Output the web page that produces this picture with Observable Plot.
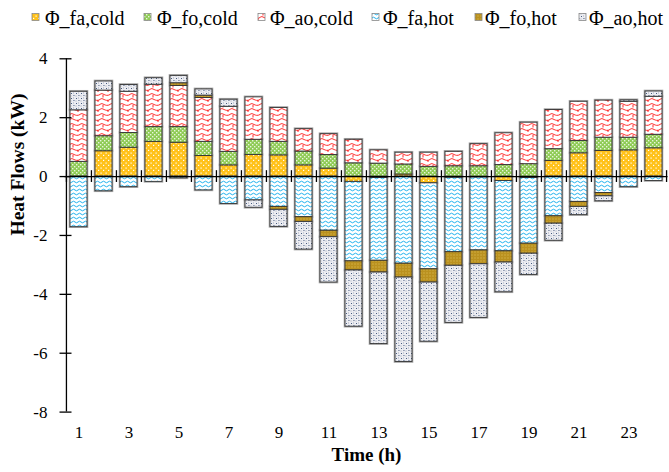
<!DOCTYPE html>
<html><head><meta charset="utf-8">
<script src="https://cdn.jsdelivr.net/npm/d3@7"></script>
<script src="https://cdn.jsdelivr.net/npm/@observablehq/plot@0.6"></script>
<style>
body{margin:0;background:#fff;}
#chart{width:669px;height:472px;position:relative;overflow:hidden;}
</style></head><body>
<svg width="0" height="0" style="position:absolute">
<defs>
<pattern id="pFaCold" width="5" height="5" patternUnits="userSpaceOnUse">
  <rect width="5" height="5" fill="#FFC21A"/>
  <rect x="0.5" y="0.5" width="1.2" height="1.2" fill="#fff"/>
  <rect x="3" y="2.8" width="1.2" height="1.2" fill="#fff"/>
</pattern>
<pattern id="pFoCold" width="4" height="4" patternUnits="userSpaceOnUse">
  <rect width="4" height="4" fill="#8FCB55"/>
  <rect x="0" y="0" width="1.4" height="1.4" fill="#e8f5dc"/>
  <rect x="2" y="2" width="1.4" height="1.4" fill="#e8f5dc"/>
</pattern>
<pattern id="pAoCold" width="10" height="10" patternUnits="userSpaceOnUse">
  <rect width="10" height="10" fill="#fff"/>
  <path d="M0,2.5 C2.5,-0.5 5,5.5 10,2.5 M0,7.5 C2.5,4.5 5,10.5 10,7.5 M3,3 L3,5.5 M8,8 L8,10" fill="none" stroke="#FF1010" stroke-width="0.9"/>
</pattern>
<pattern id="pFaHot" width="6" height="4" patternUnits="userSpaceOnUse">
  <rect width="6" height="4" fill="#fff"/>
  <path d="M0,2 Q1.5,0.4 3,2 T6,2" fill="none" stroke="#20B2EE" stroke-width="1"/>
</pattern>
<pattern id="pFoHot" width="3" height="3" patternUnits="userSpaceOnUse">
  <rect width="3" height="3" fill="#BA911F"/>
  <rect x="0.5" y="0.5" width="1" height="1" fill="#E3C45E"/>
</pattern>
<pattern id="pAoHot" width="5" height="5" patternUnits="userSpaceOnUse">
  <rect width="5" height="5" fill="#ECEDF2"/>
  <rect x="1" y="1" width="0.9" height="0.9" fill="#1F3864"/>
  <rect x="3.5" y="3" width="0.9" height="0.9" fill="#1F3864"/>
  <rect x="3" y="0.5" width="1" height="1" fill="#A5ABBD"/>
  <rect x="0.5" y="3.5" width="1" height="1" fill="#A5ABBD"/>
</pattern>
</defs>
</svg>
<div id="chart"></div>
<script>
const hours = d3.range(1, 25);
const seriesNames = ["Φ_fa,cold", "Φ_fo,cold", "Φ_ao,cold", "Φ_fa,hot", "Φ_fo,hot", "Φ_ao,hot"];
const faCold = [0, 0.86, 0.98, 1.18, 1.15, 0.70, 0.38, 0.73, 0.72, 0.38, 0.27, -0.18, -0.05, 0.07, -0.23, -0.04, -0.03, -0.15, -0.05, 0.53, 0.79, 0.87, 0.89, 0.96];
const foCold = [0.50, 0.51, 0.50, 0.50, 0.53, 0.48, 0.46, 0.52, 0.46, 0.47, 0.46, 0.45, 0.44, 0.34, 0.33, 0.35, 0.35, 0.39, 0.42, 0.40, 0.42, 0.45, 0.43, 0.46];
const aoCold = [1.75, 1.55, 1.40, 1.44, 1.40, 1.49, 1.53, 1.44, 1.15, 0.76, 0.71, 0.80, 0.45, 0.40, 0.48, 0.49, 0.75, 1.08, 1.41, 1.33, 1.33, 1.26, 1.22, 1.29];
const faHot = [-1.72, -0.50, -0.36, -0.18, -0.06, -0.47, -0.93, -0.81, -1.03, -1.38, -1.84, -2.70, -2.81, -2.96, -2.92, -2.53, -2.48, -2.39, -2.23, -1.35, -0.86, -0.56, -0.36, -0.15];
const foHot = [0, 0, 0, 0, 0.09, 0.08, 0, 0, -0.10, -0.16, -0.22, -0.31, -0.40, -0.47, -0.45, -0.46, -0.47, -0.38, -0.34, -0.25, -0.17, -0.11, 0, 0];
const aoHot = [0.63, 0.31, 0.23, 0.22, 0.25, 0.21, 0.24, -0.25, -0.58, -0.94, -1.54, -1.91, -2.43, -2.87, -2.01, -1.94, -1.82, -1.01, -0.72, -0.58, -0.28, -0.17, 0.05, 0.18];
const yTicks = [4, 2, 0, -2, -4, -6, -8];
const xTickLabels = [1, 3, 5, 7, 9, 11, 13, 15, 17, 19, 21, 23];
const patternIds = ["pFaCold", "pFoCold", "pAoCold", "pFaHot", "pFoHot", "pAoHot"];

const seriesValues = [faCold, foCold, aoCold, faHot, foHot, aoHot];
const rows = [];
seriesNames.forEach((s, k) => seriesValues[k].forEach((v, i) => {
  if (v !== 0) rows.push({hour: hours[i], series: s, value: v});
}));

const font = "Liberation Serif, Times New Roman, serif";

// legend
const legSwatchX = [32, 144, 258, 372, 475, 579];
const legTextX = [45, 157, 270, 383, 485, 589];
const leg = d3.create("svg").attr("width", 669).attr("height", 32).style("display", "block");
seriesNames.forEach((s, k) => {
  leg.append("rect").attr("x", legSwatchX[k]).attr("y", 13.5).attr("width", 7).attr("height", 7)
    .attr("fill", `url(#${patternIds[k]})`).attr("stroke", "#888").attr("stroke-width", 0.8);
  leg.append("text").attr("x", legTextX[k]).attr("y", 24.5).attr("font-size", 20)
    .attr("font-family", font).attr("fill", "#000").text(s);
});

const W = 669, H = 440, mL = 64.5, mR = 1.5, mT = 26.3, mB = 60.4;
const bw = (W - mL - mR) / hours.length;

const plot = Plot.plot({
  width: W, height: H,
  marginLeft: mL, marginRight: mR, marginTop: mT, marginBottom: mB,
  style: {fontFamily: font, fontSize: "17px", color: "#000", background: "#fff"},
  x: {type: "band", domain: hours, padding: 0, axis: null},
  y: {domain: [-8, 4], axis: null},
  color: {type: "ordinal", domain: seriesNames, range: patternIds.map(id => `url(#${id})`)},
  marks: [
    Plot.barY(rows, Plot.stackY({x: "hour", y: "value", z: "series", fill: "none", stroke: "#a8a8a8", strokeWidth: 2.6, insetLeft: 4, insetRight: 4})),
    Plot.barY(rows, Plot.stackY({x: "hour", y: "value", z: "series", fill: "series", stroke: "#333", strokeWidth: 0.9, insetLeft: 4, insetRight: 4})),
    Plot.ruleY([0], {stroke: "#000", strokeWidth: 1.3}),
    Plot.ruleX(hours, {x: d => d, y1: -0.2, y2: 0.2, dx: -bw / 2, stroke: "#000", strokeWidth: 1.3}),
    Plot.ruleX([hours[hours.length - 1]], {x: d => d, y1: -0.2, y2: 0.2, dx: bw / 2, stroke: "#000", strokeWidth: 1.3}),
    Plot.ruleX([hours[0]], {x: d => d, y1: -8, y2: 4, dx: -bw / 2, stroke: "#000", strokeWidth: 1.3}),
    Plot.axisY({ticks: yTicks, tickSize: 12, dx: 7, tickFormat: () => "", label: null, strokeWidth: 1.3}),
    Plot.axisY({ticks: yTicks, tickSize: 0, tickPadding: 17.5, tickFormat: d => String(d), label: null, fontSize: 17}),
    Plot.axisX({ticks: xTickLabels, tickSize: 0, tickPadding: 14, tickFormat: d => String(d), label: null, fontSize: 17}),
    Plot.text(["Heat Flows (kW)"], {frameAnchor: "left", rotate: -90, dx: -47, text: d => d, fontWeight: "bold", fontSize: 19.5}),
    Plot.text(["Time (h)"], {frameAnchor: "bottom", dy: 49, text: d => d, fontWeight: "bold", fontSize: 19})
  ]
});

const chart = document.getElementById("chart");
chart.appendChild(leg.node());
plot.style.display = "block";
chart.appendChild(plot);
</script>
</body></html>
